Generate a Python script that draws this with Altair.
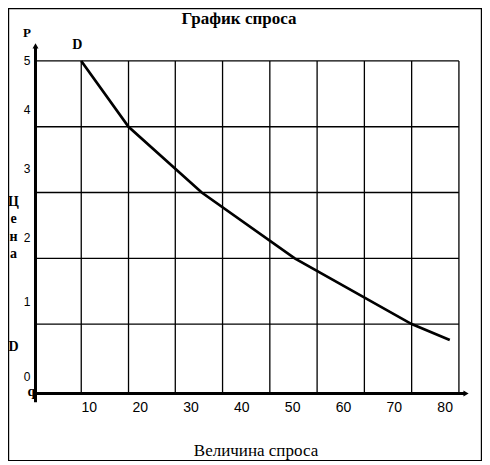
import altair as alt
import pandas as pd

# ---- texts ----
title_text = "График спроса"
x_title = "Величина спроса"
y_title = "Цена"
curve_name = "D"
p_name = "P"
q_name = "q"

# ---- demand curve D (quantity, price) ----
q_vals = [9.0, 18.3, 32.7, 51.0, 74.0, 81.5]
p_vals = [5.0, 4.0, 3.0, 2.0, 1.0, 0.76]

# ---- tick labels ----
x_tick_vals = [10, 20, 30, 40, 50, 60, 70, 80]
x_tick_labels = ["10", "20", "30", "40", "50", "60", "70", "80"]
y_tick_labels = ["5", "4", "3", "2", "1", "0"]
y_tick_pos = [5.0, 4.25, 3.36, 2.31, 1.34, 0.2]

# ---- grid ----
grid_q = [9.0, 18.3, 27.5, 36.8, 46.1, 55.4, 64.7, 74.0, 83.3]
grid_p = [5, 4, 3, 2, 1]

# axis extents (data units)
x_axis_p = -0.055
y_axis_bottom = -0.19
y_axis_top = 5.2
x_axis_left = -0.5
x_axis_right = 84.4

W, H = 474, 457
xs = alt.Scale(domain=[-5.41, 87.84], nice=False, zero=False)
ys = alt.Scale(domain=[-1.142, 5.805], nice=False, zero=False)

SERIF = "Liberation Serif"
SANS = "Liberation Sans"


def X(f):
    return alt.X(f, type="quantitative", scale=xs, axis=None)


def Y(f):
    return alt.Y(f, type="quantitative", scale=ys, axis=None)


# horizontal grid lines
df_h = pd.DataFrame({"p": grid_p, "q0": 0.0, "q1": grid_q[-1]})
h_grid = alt.Chart(df_h).mark_rule(color="black", strokeWidth=1.3).encode(
    y=Y("p"), x=X("q0"), x2="q1"
)

# vertical grid lines
df_v = pd.DataFrame({"q": grid_q, "p0": x_axis_p, "p1": grid_p[0]})
v_grid = alt.Chart(df_v).mark_rule(color="black", strokeWidth=1.3).encode(
    x=X("q"), y=Y("p0"), y2="p1"
)

# axes
df_ya = pd.DataFrame({"q": [0.0], "p0": [y_axis_bottom], "p1": [y_axis_top]})
y_axis = alt.Chart(df_ya).mark_rule(color="black", strokeWidth=3).encode(
    x=X("q"), y=Y("p0"), y2="p1"
)
df_xa = pd.DataFrame({"p": [x_axis_p], "q0": [x_axis_left], "q1": [x_axis_right]})
x_axis = alt.Chart(df_xa).mark_rule(color="black", strokeWidth=3).encode(
    y=Y("p"), x=X("q0"), x2="q1"
)
y_arrow = alt.Chart(pd.DataFrame({"q": [0.0], "p": [y_axis_top + 0.03]})).mark_point(
    shape="triangle-up", filled=True, size=36, color="black", opacity=1
).encode(x=X("q"), y=Y("p"))
x_arrow = alt.Chart(pd.DataFrame({"q": [x_axis_right + 0.3], "p": [x_axis_p]})).mark_point(
    shape="triangle-right", filled=True, size=36, color="black", opacity=1
).encode(x=X("q"), y=Y("p"))

# demand curve
df_c = pd.DataFrame({"q": q_vals, "p": p_vals, "o": list(range(len(q_vals)))})
curve = alt.Chart(df_c).mark_line(color="black", strokeWidth=2.7).encode(
    x=X("q"), y=Y("p"), order="o:O"
)

# curve label D at start
df_d = pd.DataFrame({"q": [q_vals[0]], "p": [p_vals[0]], "t": [curve_name]})
d_top = alt.Chart(df_d).mark_text(
    font=SERIF, fontSize=14, fontWeight="bold", color="black",
    dx=-4, dy=-15.5, baseline="middle", align="center"
).encode(x=X("q"), y=Y("p"), text="t:N")

# x tick labels
df_xt = pd.DataFrame({"q": x_tick_vals, "t": x_tick_labels})
x_ticks = alt.Chart(df_xt).mark_text(
    font=SANS, fontSize=14, color="black", dx=3,
    baseline="middle", align="center"
).encode(x=X("q"), y=alt.value(400.3), text="t:N")

# y tick labels
df_yt = pd.DataFrame({"p": y_tick_pos, "t": y_tick_labels})
y_ticks = alt.Chart(df_yt).mark_text(
    font=SANS, fontSize=12, color="black",
    baseline="middle", align="center"
).encode(x=alt.value(19), y=Y("p"), text="t:N")

# title
title = alt.Chart(pd.DataFrame({"t": [title_text]})).mark_text(
    font=SERIF, fontSize=17, fontWeight="bold", color="black",
    baseline="alphabetic", align="center"
).encode(x=alt.value(231), y=alt.value(15.5), text="t:N")

# x title
xt = alt.Chart(pd.DataFrame({"t": [x_title]})).mark_text(
    font=SERIF, fontSize=17, color="black",
    baseline="alphabetic", align="center"
).encode(x=alt.value(248), y=alt.value(448), text="t:N")

# y title (stacked letters)
yt = alt.Chart(pd.DataFrame({"t": ["\n".join(list(y_title))]})).mark_text(
    font=SERIF, fontSize=14, fontWeight="bold", color="black",
    baseline="alphabetic", align="center", lineBreak="\n", lineHeight=17.3
).encode(x=alt.value(5.5), y=alt.value(198), text="t:N")

# P and q and left D
p_lbl = alt.Chart(pd.DataFrame({"t": [p_name]})).mark_text(
    font=SERIF, fontSize=13, fontWeight="bold", color="black",
    baseline="middle", align="center"
).encode(x=alt.value(19), y=alt.value(25), text="t:N")
q_lbl = alt.Chart(pd.DataFrame({"t": [q_name]})).mark_text(
    font=SERIF, fontSize=14, fontWeight="bold", color="black",
    baseline="alphabetic", align="center"
).encode(x=alt.value(23.5), y=alt.value(388), text="t:N")
d_left = alt.Chart(pd.DataFrame({"t": [curve_name]})).mark_text(
    font=SERIF, fontSize=14, fontWeight="bold", color="black",
    baseline="middle", align="center"
).encode(x=alt.value(5.5), y=alt.value(339), text="t:N")

# frame
frame = alt.Chart(pd.DataFrame({"a": [0]})).mark_rect(
    fill="transparent", stroke="black", strokeWidth=1.2
).encode(x=alt.value(0.6), x2=alt.value(473.4), y=alt.value(0.6), y2=alt.value(452.5))

chart = alt.layer(
    frame, h_grid, v_grid, curve, y_axis, x_axis, y_arrow, x_arrow,
    d_top, x_ticks, y_ticks, title, xt, yt, p_lbl, q_lbl, d_left
).properties(
    width=W, height=H, padding=0,
    autosize=alt.AutoSizeParams(type="none"),
    background="white",
).configure_view(strokeWidth=0)

chart.save("out.html", embed_options={"renderer": "svg", "actions": False})
